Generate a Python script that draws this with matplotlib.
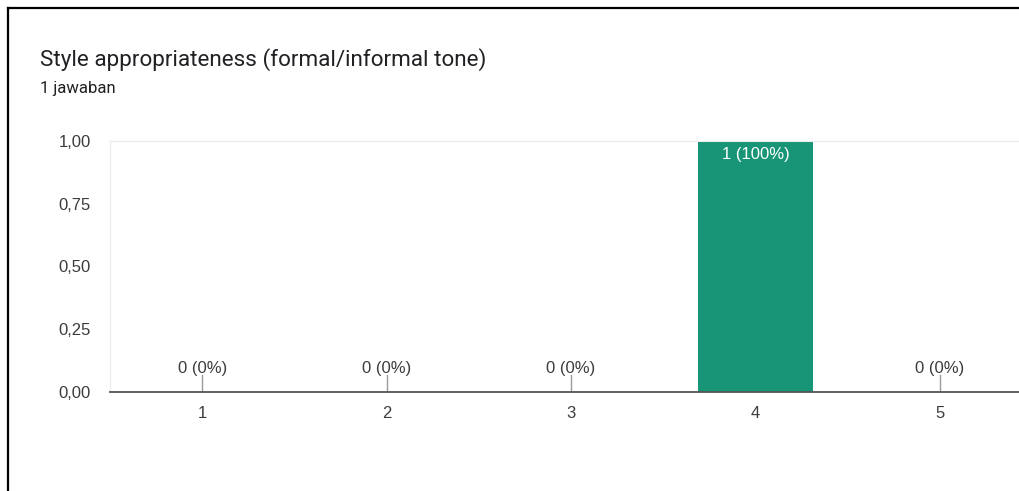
import matplotlib.pyplot as plt
from matplotlib.lines import Line2D

title = "Style appropriateness (formal/informal tone)"
subtitle = "1 jawaban"
categories = ["1", "2", "3", "4", "5"]
counts = [0, 0, 0, 1, 0]
percents = [0, 0, 0, 100, 0]
yticks = [0.0, 0.25, 0.5, 0.75, 1.0]

bar_color = "#189576"
text_color = "#3c3c3c"

fig = plt.figure(figsize=(10.19, 4.91), dpi=100)
ax = fig.add_axes([110 / 1019, 1 - 392 / 491, 922 / 1019, 251 / 491])

x = list(range(1, len(categories) + 1))
ax.bar(x, counts, width=0.62, color=bar_color, zorder=2)

ax.set_xlim(0.5, 5.5)
ax.set_ylim(0, 1.0)
ax.set_xticks(x)
ax.set_xticklabels(categories)
ax.set_yticks(yticks)
ax.set_yticklabels([f"{v:.2f}".replace(".", ",") for v in yticks])
ax.tick_params(length=0, labelsize=12, labelcolor=text_color, pad=14)
ax.tick_params(axis="x", pad=10)
for lab in ax.get_xticklabels() + ax.get_yticklabels():
    lab.set_family("Liberation Sans")

ax.spines["right"].set_visible(False)
ax.spines["top"].set_color("#ebebeb")
ax.spines["left"].set_color("#ebebeb")
ax.spines["bottom"].set_color("#555555")
ax.spines["bottom"].set_linewidth(1.3)
ax.spines["bottom"].set_zorder(3)

# value labels
for xi, c, p in zip(x, counts, percents):
    label = f"{c} ({p}%)"
    if c == 0:
        ax.plot([xi, xi], [0, 17 / 251], color="#999999", lw=1, zorder=1)
        ax.annotate(label, (xi, 0), xytext=(0, 24 * 0.72), textcoords="offset points",
                    ha="center", va="center", fontsize=12, color=text_color,
                    family="Liberation Sans")
    else:
        ax.annotate(label, (xi, c), xytext=(0, -13 * 0.72), textcoords="offset points",
                    ha="center", va="center", fontsize=12, color="white",
                    family="Liberation Sans")

fig.text(40 / 1019, 1 - 60 / 491, title, fontsize=16.2, family="Roboto",
         color="#202124", va="center", ha="left")
fig.text(40 / 1019, 1 - 88 / 491, subtitle, fontsize=12, family="Roboto",
         color="#202124", va="center", ha="left")

# screenshot frame
fig.add_artist(Line2D([8 / 1019, 1], [1 - 8 / 491, 1 - 8 / 491], color="black", lw=1.6))
fig.add_artist(Line2D([8 / 1019, 8 / 1019], [0, 1 - 8 / 491], color="black", lw=1.6))

fig.savefig("out.png", dpi=100)
